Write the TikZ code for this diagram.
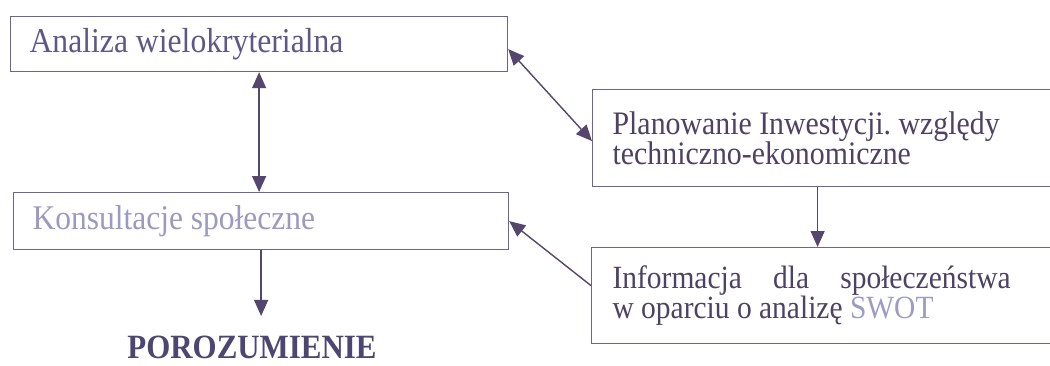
\documentclass[tikz,border=0pt]{standalone}
\usepackage{fontspec}
\setmainfont{Liberation Serif}[FakeStretch=0.91]
\usetikzlibrary{arrows.meta}
\definecolor{boxcol}{HTML}{6A6592}
\definecolor{arrcol}{HTML}{55466E}
\definecolor{textA}{HTML}{5E5888}
\definecolor{textC}{HTML}{9C9AC0}
\definecolor{textB}{HTML}{4E4264}
\definecolor{swotcol}{HTML}{9D9CC2}
\definecolor{porcol}{HTML}{4D4672}
\tikzset{
  box/.style={draw=boxcol, line width=1.2pt, rectangle, inner ysep=0pt, anchor=north west, align=flush left},
  arr/.style={draw=arrcol, line width=1.4pt},
  tipend/.style={-{Triangle[length=16pt,width=14pt]}},
  tipboth/.style={{Triangle[length=16pt,width=14pt]}-{Triangle[length=16pt,width=14pt]}}
}
\frenchspacing
\begin{document}
\begin{tikzpicture}[x=1pt,y=-1pt]
\useasboundingbox (0,0) rectangle (1050,365);
\fill[white] (0,0) rectangle (1050,365);
\node[box, inner xsep=19pt, minimum width=497pt, minimum height=55pt, text width=459pt, text=textA, font=\fontsize{34.8}{30}\selectfont\frenchspacing] (A) at (10,16) {Analiza wielokryterialna};
\node[box, inner xsep=20pt, minimum width=460pt, minimum height=97pt, text width=420pt, text=textB, font=\fontsize{32.8}{30}\selectfont\frenchspacing] (B) at (592,89) {Planowanie Inwestycji. względy\\techniczno-ekonomiczne};
\node[box, inner xsep=19pt, minimum width=495pt, minimum height=57pt, text width=457pt, text=textC, font=\fontsize{34.6}{30}\selectfont\frenchspacing] (C) at (13,192) {Konsultacje społeczne};
\node[box, inner xsep=21pt, minimum width=461pt, minimum height=96pt, text width=419pt, text=textB, font=\fontsize{32.4}{30}\selectfont\frenchspacing] (D) at (591,247) {\makebox[398pt][s]{Informacja dla społeczeństwa}\\w oparciu o analizę \textcolor{swotcol}{SWOT}};
\node[anchor=base, text=porcol, font=\bfseries\fontsize{34}{34}\selectfont] (P) at (252,358) {POROZUMIENIE};
\draw[arr, tipboth] (A.south) -- (A.south |- C.north);
\draw[arr, tipboth] ([yshift=-5pt]A.east) -- ([yshift=-3pt]B.west);
\draw[arr, tipend] ([xshift=-5pt]B.south) -- ([xshift=-5pt]B.south |- D.north);
\draw[arr, tipend] ([yshift=10pt]D.west) -- (C.east);
\draw[arr, tipend, shorten >=16pt] (C.south) -- (C.south |- P.north);
\end{tikzpicture}
\end{document}
